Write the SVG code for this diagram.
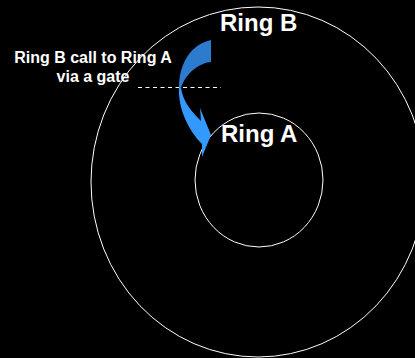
<svg xmlns="http://www.w3.org/2000/svg" width="415" height="358" viewBox="0 0 415 358">
<style>
.ring{fill:none;stroke:#ffffff;stroke-width:1}
.big{font-family:"Liberation Sans",Arial,sans-serif;font-weight:bold;font-size:24px;fill:#ffffff}
.lbl{font-family:"Liberation Sans",Arial,sans-serif;font-weight:bold;font-size:16px;fill:#ffffff;text-anchor:middle}
.gate{stroke:#ffffff;stroke-width:1;stroke-dasharray:4 3.5;fill:none}
</style>
<rect x="0" y="0" width="415" height="358" fill="#000000"/>
<g id="ringB">
<ellipse class="ring" cx="258" cy="182" rx="167" ry="175"/>
<text class="big" x="220" y="31">Ring B</text>
</g>
<g id="ringA">
<ellipse class="ring" cx="259" cy="180" rx="64" ry="67"/>
<text class="big" x="221" y="142">Ring A</text>
</g>
<g id="label">
<text class="lbl" x="93" y="63">Ring B call to Ring A</text>
<text class="lbl" x="93" y="82">via a gate</text>
</g>
<g id="gate">
<line class="gate" x1="138" y1="87.5" x2="221" y2="87.5"/>
</g>
<g id="connectors">
<path d="M211,40 L211,62 C199,63 186,73 181,88 L179,88 C179,62 192,44 211,40 Z" fill="#2B7BCF"/>
<path d="M179,88 C178,108 188,130 202,144 L202,157 L211,135 L200,108 L201,121 C192,112 183,102 181,88 Z" fill="#3399FF"/>
</g>
</svg>
